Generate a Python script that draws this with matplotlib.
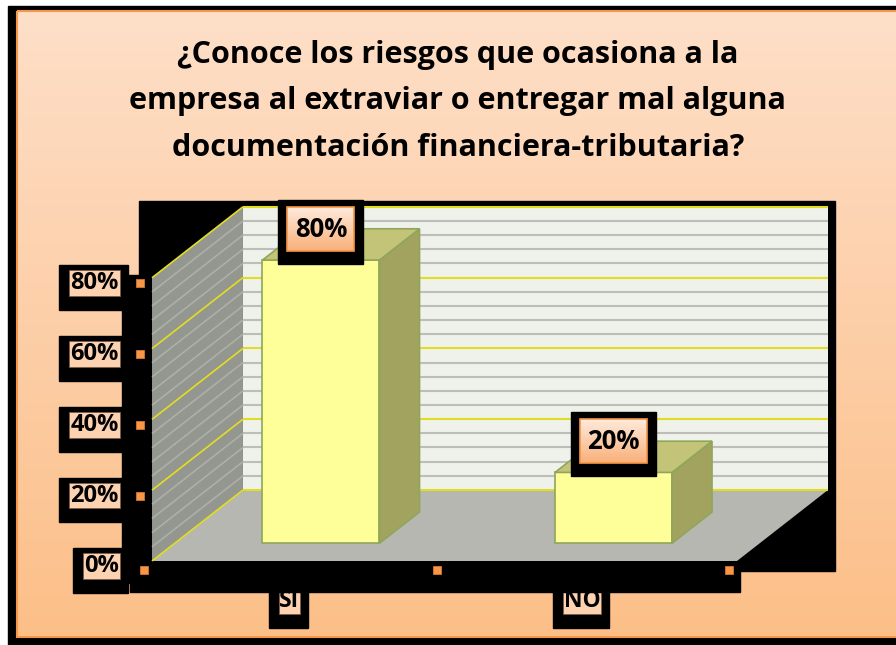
import numpy as np
import matplotlib.pyplot as plt
from matplotlib.patches import Rectangle, Polygon
from matplotlib.colors import LinearSegmentedColormap

plt.rcParams['font.family'] = ['Open Sans', 'DejaVu Sans']

# Datos
categorias = ['SI', 'NO']
valores = [80, 20]
ticks_y = [0, 20, 40, 60, 80]
etiquetas_y = ['0%', '20%', '40%', '60%', '80%']
titulo = ("¿Conoce los riesgos que ocasiona a la\n"
          "empresa al extraviar o entregar mal alguna\n"
          "documentación financiera-tributaria?")

W, H = 896, 645
fig = plt.figure(figsize=(W / 100, H / 100), dpi=100)
fig.patch.set_facecolor('white')

# capa de fondo (pixeles)
bg = fig.add_axes([0, 0, 1, 1])
bg.axis('off')
bg.add_patch(Rectangle((8, 6), W, H, color='black', zorder=1))
grad = LinearSegmentedColormap.from_list('fondo', ['#FEDFC8', '#FCBF88'])
bg.imshow(np.linspace(0, 1, 256).reshape(-1, 1), cmap=grad, aspect='auto',
          extent=(17, W, 637, 10), zorder=2)
bg.add_patch(Rectangle((16.5, 10.5), W, 626, fill=False, ec='#F79646', lw=1.5, zorder=3))
bg.set_xlim(0, W)
bg.set_ylim(H, 0)

fig.text(0.511, 0.843, titulo, ha='center', va='center', fontsize=22,
         fontweight='bold', linespacing=1.72)

# grafico (coordenadas de datos, plano frontal)
ax = fig.add_axes([0, 0, 1, 1])
ax.set_xlim(-1.0197, 2.0436)
ax.set_ylim(-23.73, 158.47)
ax.axis('off')
ax.patch.set_alpha(0)

DX, DY = 0.311, 20.06
d0, d1 = 0.25, 0.69
ancho = 0.4
x0, x1 = -0.5, len(categorias) - 0.5
ymax = ticks_y[-1]


def P(x, y, d):
    return (x + DX * d, y + DY * d)


px = bg.transData
# sombras negras
for r in [(139, 201, 696, 370), (122, 275, 30, 308)]:
    ax.add_patch(Rectangle(r[:2], r[2], r[3], color='black', transform=px, zorder=1))
ax.add_patch(Rectangle((130, 562), 610, 30, color='black', transform=px, zorder=4.6))

# paredes y piso
ax.add_patch(Polygon([P(x0, 0, 0), P(x0, ymax, 0), P(x0, ymax, 1), P(x0, 0, 1)],
                     fc='#949790', ec='none', zorder=2))
ax.add_patch(Polygon([P(x0, 0, 1), P(x1, 0, 1), P(x1, ymax, 1), P(x0, ymax, 1)],
                     fc='#EFF2EB', ec='none', zorder=2))
ax.add_patch(Polygon([P(x0, 0, 0), P(x1, 0, 0), P(x1, 0, 1), P(x0, 0, 1)],
                     fc='#B5B7B0', ec='none', zorder=2))
for y in range(0, ymax + 1, 4):
    mayor = y % 20 == 0
    c1 = '#E3DD22' if mayor else '#BDBEBA'
    c2 = '#E3DD22' if mayor else '#ADB0A9'
    ax.plot(*zip(P(x0, y, 1), P(x1, y, 1)), color=c1, lw=1.5, zorder=3 + mayor * 0.1,
            solid_capstyle='butt')
    ax.plot(*zip(P(x0, y, 0), P(x0, y, 1)), color=c2, lw=1.2, zorder=3 + mayor * 0.1,
            solid_capstyle='butt')

# barras 3D
borde = '#8FA65A'
for i, v in enumerate(valores):
    ax.bar(i + DX * d0, v, width=ancho, bottom=DY * d0, color='#FFFF99',
           edgecolor=borde, lw=1.2, zorder=5)
    xr = i + ancho / 2
    xl = i - ancho / 2
    ax.add_patch(Polygon([P(xr, 0, d0), P(xr, 0, d1), P(xr, v, d1), P(xr, v, d0)],
                         fc='#A3A360', ec=borde, lw=1.2, zorder=5))
    ax.add_patch(Polygon([P(xl, v, d0), P(xr, v, d0), P(xr, v, d1), P(xl, v, d1)],
                         fc='#C3C478', ec=borde, lw=1.2, zorder=5))

etiquetas = []


def etiqueta(x, y, s, size, ha='center'):
    t = ax.text(x, y, s, ha=ha, va='center', fontsize=size, fontweight='bold',
                bbox=dict(boxstyle='square,pad=0.04', fc='#FCD2B0', ec='#7A5A48', lw=0.6),
                zorder=4.1)
    etiquetas.append(t)


# eje y
for t, lab in zip(ticks_y, etiquetas_y):
    etiqueta(-0.614, t - 1.5, lab, 17, ha='right')
ax.plot([-0.541] * (len(ticks_y) - 1), [t - 1.5 for t in ticks_y[1:]], 's', ms=6,
        color='#F79646', mec='#D9772E', mew=0.6, zorder=6)

# eje x
for i, c in enumerate(categorias):
    etiqueta(i - 0.03, -11.3, c, 16.5)
bordes_x = np.arange(len(categorias) + 1) - 0.5
ax.plot(bordes_x - 0.027, [-2.5] * len(bordes_x), 's', ms=6,
        color='#F79646', mec='#D9772E', mew=0.6, zorder=6)

# sombras negras de las etiquetas de ejes
fig.canvas.draw()
for t in etiquetas:
    bb = t.get_bbox_patch().get_window_extent()
    izq, der = bb.x0 - 10, bb.x1 + 8
    arr, aba = H - bb.y1 - 5, H - bb.y0 + 14
    ax.add_patch(Rectangle((izq, arr), der - izq, aba - arr, color='black',
                           transform=px, zorder=4))

# etiquetas de datos
fg = fig.add_axes([0, 0, 1, 1])
fg.axis('off')
fg.patch.set_alpha(0)
grad2 = LinearSegmentedColormap.from_list('lab', ['#FEEADB', '#F9B07A'])
for i, v in enumerate(valores):
    cx, cy = bg.transData.inverted().transform(ax.transData.transform(P(i, v, d0)))
    cy -= 31
    fg.add_patch(Rectangle((cx - 42.5, cy - 29), 85, 64, color='black', zorder=1))
    fg.imshow(np.linspace(0, 1, 64).reshape(-1, 1), cmap=grad2, aspect='auto',
              extent=(cx - 33.5, cx + 33.5, cy + 22, cy - 22), zorder=2)
    fg.add_patch(Rectangle((cx - 33.5, cy - 22), 67, 44, fill=False, ec='#F79646',
                           lw=1.2, zorder=3))
    fg.text(cx, cy, f'{v}%', ha='center', va='center', fontsize=18.5,
            fontweight='bold', zorder=4)
fg.set_xlim(0, W)
fg.set_ylim(H, 0)

fig.savefig('out.png', dpi=100)
